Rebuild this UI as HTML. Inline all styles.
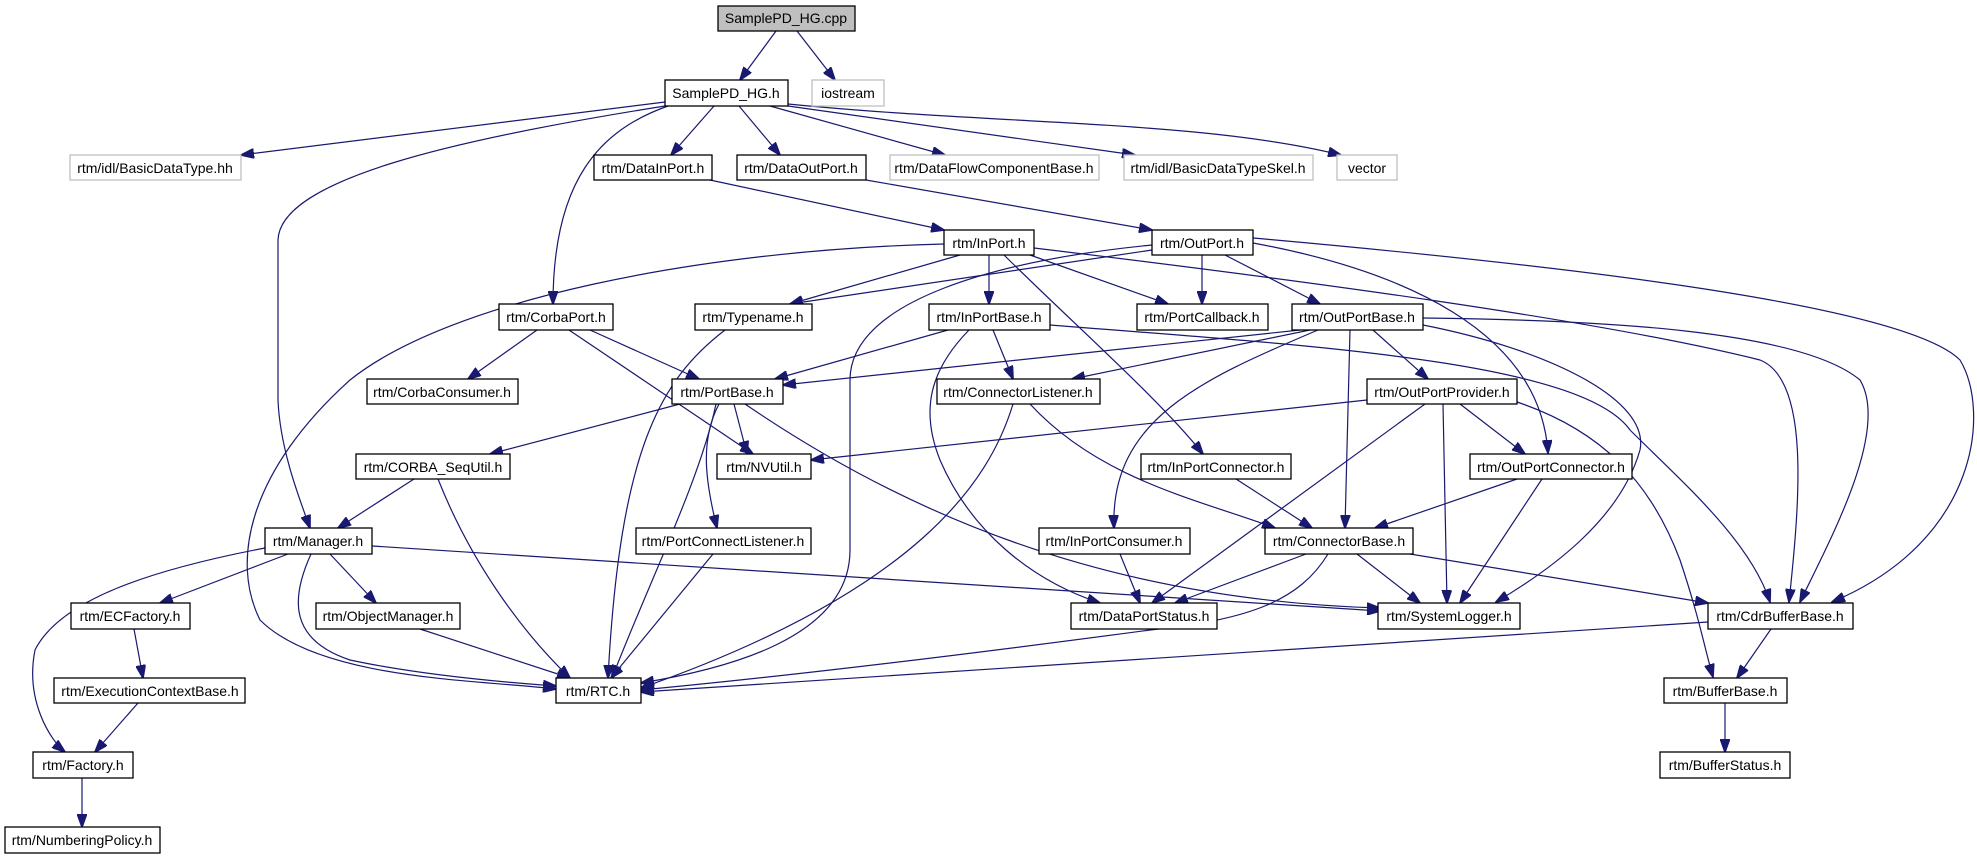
<!DOCTYPE html>
<html><head><meta charset="utf-8"><style>
html,body{margin:0;padding:0;background:#fff;}
svg{display:block;}
text{font-family:"Liberation Sans",sans-serif;font-size:14px;fill:#000;}
.n{fill:#fff;stroke:#000;stroke-width:1.3;}
.g{fill:#fff;stroke:#bfbfbf;stroke-width:1.3;}
.e{fill:none;stroke:#191970;stroke-width:1.2;}
</style></head><body>
<svg width="1977" height="859" viewBox="0 0 1977 859" xmlns="http://www.w3.org/2000/svg">
<defs><marker id="a" markerUnits="userSpaceOnUse" markerWidth="14" markerHeight="10" refX="13" refY="5" orient="auto"><path d="M0,0 L14,5 L0,10 Z" fill="#191970" stroke="#191970"/></marker></defs>
<g class="e" marker-end="url(#a)">
<path d="M776,31 L740,80"/>
<path d="M797,31 L835,80"/>
<path d="M665,102 L241,155"/>
<path d="M665,106 C450,140 280,180 278,240 L278,400 C280,450 300,500 310,528"/>
<path d="M668,106 C600,130 553,180 553,304"/>
<path d="M714,106 L671,155"/>
<path d="M739,106 L780,155"/>
<path d="M770,106 L945,155"/>
<path d="M788,106 L1135,155"/>
<path d="M788,104 C1000,125 1200,120 1341,155"/>
<path d="M710,180 L944,230"/>
<path d="M866,180 L1152,230"/>
<path d="M944,244 C700,250 450,300 350,380 C250,470 230,560 260,620 C320,680 480,680 556,689"/>
<path d="M960,255 L790,304"/>
<path d="M989,255 L989,304"/>
<path d="M1030,255 L1168,304"/>
<path d="M1004,255 C1080,330 1160,400 1203,454"/>
<path d="M1034,248 C1300,280 1600,320 1760,360 C1810,380 1800,500 1789,602"/>
<path d="M1253,238 C1500,260 1900,300 1960,360 C1990,410 1980,540 1832,602"/>
<path d="M1152,250 L790,304"/>
<path d="M1152,245 C1000,260 850,300 850,380 L850,550 C850,640 720,670 641,683"/>
<path d="M1202,255 L1202,304"/>
<path d="M1225,255 L1320,304"/>
<path d="M1253,243 C1400,270 1540,330 1548,453"/>
<path d="M537,330 L468,379"/>
<path d="M590,330 L699,379"/>
<path d="M569,330 L753,454"/>
<path d="M725,330 C660,380 620,450 608,678"/>
<path d="M948,330 L775,379"/>
<path d="M993,330 L1013,379"/>
<path d="M969,330 C930,370 920,410 940,460 C970,530 1030,580 1100,603"/>
<path d="M1050,325 C1300,345 1580,360 1630,430 C1680,480 1750,540 1770,602"/>
<path d="M1300,330 L783,385"/>
<path d="M1310,330 L1072,379"/>
<path d="M1318,330 C1200,380 1110,420 1114,528"/>
<path d="M1350,330 L1345,528"/>
<path d="M1373,330 L1428,379"/>
<path d="M1423,325 C1550,350 1650,400 1640,450 C1620,520 1550,570 1496,602"/>
<path d="M1423,318 C1600,320 1800,330 1860,380 C1890,430 1830,540 1800,602"/>
<path d="M680,404 L490,454"/>
<path d="M734,404 L747,454"/>
<path d="M719,404 C700,440 705,480 717,528"/>
<path d="M745,404 C900,510 1100,600 1380,608"/>
<path d="M716,404 C700,480 650,580 612,678"/>
<path d="M1013,404 C990,480 920,590 641,688"/>
<path d="M1030,404 C1100,480 1200,500 1275,528"/>
<path d="M1367,400 L811,460"/>
<path d="M1425,404 L1152,603"/>
<path d="M1443,404 L1447,603"/>
<path d="M1460,404 L1525,454"/>
<path d="M1517,402 C1600,430 1650,480 1680,560 C1700,620 1705,650 1713,677"/>
<path d="M414,479 L338,528"/>
<path d="M438,479 C470,560 520,630 570,678"/>
<path d="M1236,479 L1312,528"/>
<path d="M1517,479 L1375,528"/>
<path d="M1542,479 L1460,603"/>
<path d="M288,554 L160,603"/>
<path d="M265,548 C150,570 60,600 35,650 C25,700 50,740 65,752"/>
<path d="M330,554 L376,603"/>
<path d="M372,546 L1380,611"/>
<path d="M311,554 C290,600 290,640 350,660 C420,675 500,682 556,686"/>
<path d="M713,554 L611,678"/>
<path d="M1120,554 L1140,603"/>
<path d="M1306,554 L1175,603"/>
<path d="M1357,554 L1420,603"/>
<path d="M1328,554 C1300,600 1250,620 1150,630 C1000,650 800,675 641,690"/>
<path d="M1410,554 L1708,603"/>
<path d="M420,629 L570,678"/>
<path d="M134,629 L143,678"/>
<path d="M1708,622 L641,692"/>
<path d="M1771,629 L1737,678"/>
<path d="M138,703 L95,752"/>
<path d="M1725,703 L1725,752"/>
<path d="M82,778 L82,827"/>
</g>
<g text-anchor="middle">
<rect x="718" y="6" width="137" height="25" fill="#bfbfbf" stroke="#000" stroke-width="1.3"/><text x="786" y="23">SamplePD_HG.cpp</text>
<rect class="n" x="665" y="80" width="123" height="26"/><text x="726" y="98">SamplePD_HG.h</text>
<rect class="g" x="812" y="80" width="72" height="26"/><text x="848" y="98">iostream</text>
<rect class="g" x="70" y="155" width="171" height="25"/><text x="155" y="173">rtm/idl/BasicDataType.hh</text>
<rect class="n" x="594" y="155" width="118" height="25"/><text x="653" y="173">rtm/DataInPort.h</text>
<rect class="n" x="737" y="155" width="129" height="25"/><text x="801" y="173">rtm/DataOutPort.h</text>
<rect class="g" x="890" y="155" width="209" height="25"/><text x="994" y="173">rtm/DataFlowComponentBase.h</text>
<rect class="g" x="1124" y="155" width="189" height="25"/><text x="1218" y="173">rtm/idl/BasicDataTypeSkel.h</text>
<rect class="g" x="1337" y="155" width="60" height="25"/><text x="1367" y="173">vector</text>
<rect class="n" x="944" y="230" width="90" height="25"/><text x="989" y="248">rtm/InPort.h</text>
<rect class="n" x="1152" y="230" width="101" height="25"/><text x="1202" y="248">rtm/OutPort.h</text>
<rect class="n" x="499" y="304" width="114" height="26"/><text x="556" y="322">rtm/CorbaPort.h</text>
<rect class="n" x="695" y="304" width="117" height="26"/><text x="753" y="322">rtm/Typename.h</text>
<rect class="n" x="929" y="304" width="121" height="26"/><text x="989" y="322">rtm/InPortBase.h</text>
<rect class="n" x="1137" y="304" width="131" height="26"/><text x="1202" y="322">rtm/PortCallback.h</text>
<rect class="n" x="1292" y="304" width="131" height="26"/><text x="1357" y="322">rtm/OutPortBase.h</text>
<rect class="n" x="367" y="379" width="151" height="25"/><text x="442" y="397">rtm/CorbaConsumer.h</text>
<rect class="n" x="672" y="379" width="111" height="25"/><text x="727" y="397">rtm/PortBase.h</text>
<rect class="n" x="937" y="379" width="163" height="25"/><text x="1018" y="397">rtm/ConnectorListener.h</text>
<rect class="n" x="1367" y="379" width="150" height="25"/><text x="1442" y="397">rtm/OutPortProvider.h</text>
<rect class="n" x="356" y="454" width="154" height="25"/><text x="433" y="472">rtm/CORBA_SeqUtil.h</text>
<rect class="n" x="717" y="454" width="94" height="25"/><text x="764" y="472">rtm/NVUtil.h</text>
<rect class="n" x="1141" y="454" width="150" height="25"/><text x="1216" y="472">rtm/InPortConnector.h</text>
<rect class="n" x="1470" y="454" width="162" height="25"/><text x="1551" y="472">rtm/OutPortConnector.h</text>
<rect class="n" x="265" y="528" width="107" height="26"/><text x="318" y="546">rtm/Manager.h</text>
<rect class="n" x="636" y="528" width="175" height="26"/><text x="723" y="546">rtm/PortConnectListener.h</text>
<rect class="n" x="1039" y="528" width="151" height="26"/><text x="1114" y="546">rtm/InPortConsumer.h</text>
<rect class="n" x="1265" y="528" width="148" height="26"/><text x="1339" y="546">rtm/ConnectorBase.h</text>
<rect class="n" x="71" y="603" width="119" height="26"/><text x="130" y="621">rtm/ECFactory.h</text>
<rect class="n" x="316" y="603" width="144" height="26"/><text x="388" y="621">rtm/ObjectManager.h</text>
<rect class="n" x="1071" y="603" width="146" height="26"/><text x="1144" y="621">rtm/DataPortStatus.h</text>
<rect class="n" x="1378" y="603" width="142" height="26"/><text x="1449" y="621">rtm/SystemLogger.h</text>
<rect class="n" x="1708" y="603" width="145" height="26"/><text x="1780" y="621">rtm/CdrBufferBase.h</text>
<rect class="n" x="54" y="678" width="191" height="25"/><text x="150" y="696">rtm/ExecutionContextBase.h</text>
<rect class="n" x="556" y="678" width="85" height="25"/><text x="598" y="696">rtm/RTC.h</text>
<rect class="n" x="1664" y="678" width="123" height="25"/><text x="1725" y="696">rtm/BufferBase.h</text>
<rect class="n" x="33" y="752" width="100" height="26"/><text x="83" y="770">rtm/Factory.h</text>
<rect class="n" x="1660" y="752" width="130" height="26"/><text x="1725" y="770">rtm/BufferStatus.h</text>
<rect class="n" x="5" y="827" width="155" height="26"/><text x="82" y="845">rtm/NumberingPolicy.h</text>
</g>
</svg>
</body></html>
